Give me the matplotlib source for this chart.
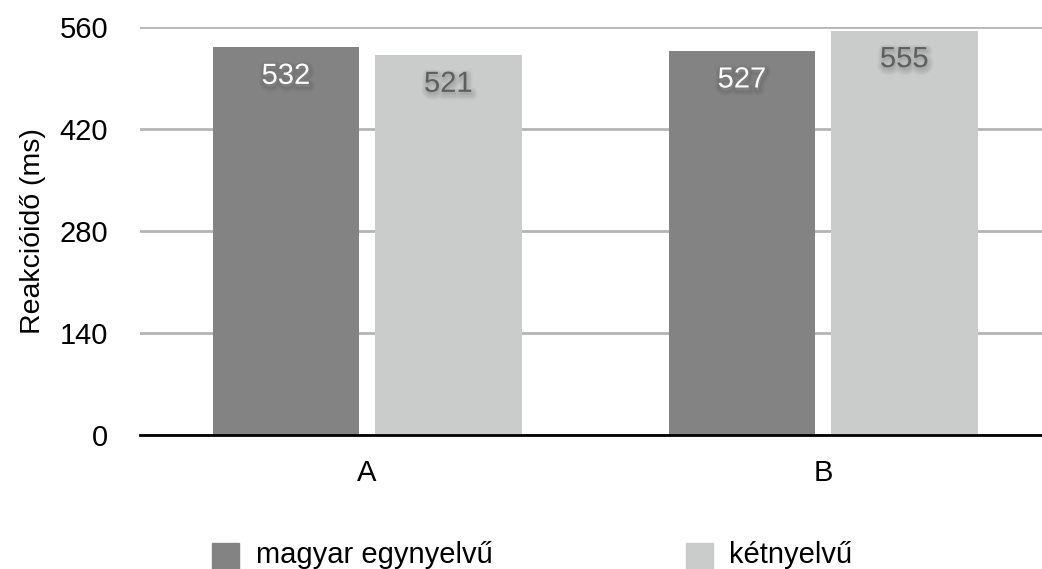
import matplotlib.pyplot as plt
import matplotlib.patheffects as pe
from matplotlib.patches import Rectangle
import numpy as np

plt.rcParams['font.family'] = ['Liberation Sans', 'DejaVu Sans']

categories = ['A', 'B']
series_names = ['magyar egynyelvű', 'kétnyelvű']
mono = [532, 527]
bi = [521, 555]
yticks = [0, 140, 280, 420, 560]

COLORS = ['#838383', '#cacbcb']
TEXT_COLORS = ['white', '#5e5e5e']

W, H = 1042, 569
fig = plt.figure(figsize=(W / 100, H / 100), dpi=100)
ax = fig.add_axes([140 / W, 134 / H, 902 / W, 408 / H])

x = np.arange(len(categories))
width = 0.322
offset = 0.178

# soft drop shadow behind the value labels
shadow = [pe.Stroke(linewidth=lw, foreground='black', alpha=0.035, offset=(0.8, -2))
          for lw in (7, 5, 3)]
shadow.append(pe.Normal())

for i, (vals, color, tcolor) in enumerate(zip([mono, bi], COLORS, TEXT_COLORS)):
    pos = x + (i * 2 - 1) * offset
    bars = ax.bar(pos, vals, width, color=color, zorder=3)
    for bar, val in zip(bars, vals):
        ax.annotate(f'{val}', (bar.get_x() + bar.get_width() / 2, val),
                    xytext=(0, -20.5), textcoords='offset points',
                    ha='center', va='center', fontsize=21, color=tcolor,
                    zorder=4, path_effects=shadow)

ax.set_xlim(-0.498, 1.48)
ax.set_ylim(0, 560)
ax.set_yticks(yticks)
ax.set_yticklabels([str(t) for t in yticks], fontsize=21)
ax.set_xticks(x)
ax.set_xticklabels(categories, fontsize=21)
ax.tick_params(axis='y', length=0, pad=23)
ax.tick_params(axis='x', length=0, pad=17)
ax.set_ylabel('Reakcióidő (ms)', fontsize=20.5, labelpad=10)

ax.grid(axis='y', color='#b5b5b5', linewidth=2, zorder=1)
for side in ['top', 'right', 'left']:
    ax.spines[side].set_visible(False)
ax.spines['bottom'].set_linewidth(2)
ax.spines['bottom'].set_color('black')
ax.spines['bottom'].set_zorder(5)

# legend: swatch + label under each column
for name, color, sx, tx in zip(series_names, COLORS, [212, 686], [256, 729]):
    fig.patches.append(Rectangle((sx / W, -1 / H), 27 / W, 27 / H, color=color,
                                 transform=fig.transFigure, figure=fig))
    fig.text(tx / W, 6 / H, name, fontsize=21, va='baseline', ha='left')

fig.savefig('out.png', dpi=100)
